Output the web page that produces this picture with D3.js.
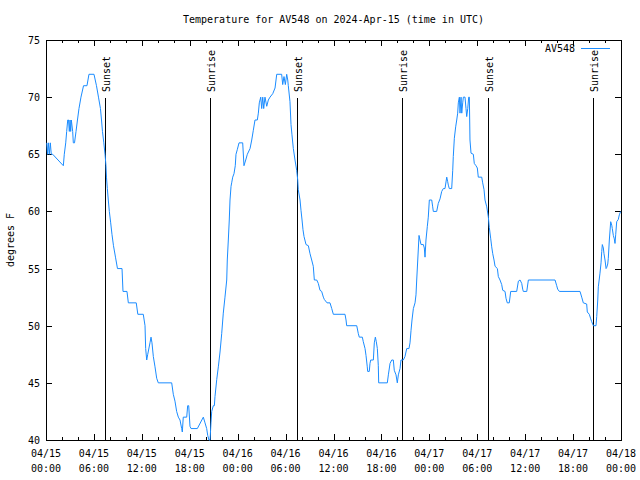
<!DOCTYPE html>
<html><head><meta charset="utf-8">
<script src="https://cdn.jsdelivr.net/npm/d3@7"></script>
<style>
html,body{margin:0;padding:0;background:#fff;}
text{font-family:"DejaVu Sans Mono","Liberation Mono",monospace;font-size:10px;fill:#000;}
</style></head>
<body>
<svg id="chart" width="640" height="480"></svg>
<script>
// ---- data (hours since 2024-04-15 00:00 UTC, temperature °F) ----
const hours = [0.09,0.19,0.29,0.41,0.54,0.66,0.84,2.17,2.29,2.47,2.59,2.72,2.82,2.92,3.01,3.09,3.17,3.34,3.42,3.57,3.76,3.94,4.13,4.38,4.70,5.13,5.38,6.01,6.32,6.57,6.82,6.95,7.07,7.24,7.39,7.51,7.57,7.68,7.80,7.93,8.10,8.26,8.45,8.70,8.95,9.52,9.58,9.64,10.14,10.31,11.30,11.50,12.18,12.40,12.48,12.61,12.74,13.02,13.15,13.27,13.44,13.65,13.86,14.06,15.74,15.94,16.15,16.36,16.57,16.78,16.99,17.07,17.19,17.62,17.74,17.87,18.03,18.16,18.95,19.70,19.91,20.12,20.25,20.41,20.54,20.66,20.75,20.95,21.08,21.16,21.38,21.58,21.79,22.00,22.20,22.41,22.63,22.70,22.83,22.95,23.04,23.17,23.25,23.38,23.54,23.70,23.79,23.95,24.17,24.63,24.79,25.01,25.21,25.55,25.76,25.96,26.17,26.46,26.59,26.71,26.89,27.01,27.14,27.26,27.42,27.64,27.84,28.05,28.39,28.68,28.89,29.51,29.64,29.80,29.97,30.14,30.27,30.34,30.55,30.68,30.80,30.97,31.18,31.39,31.52,31.59,31.81,31.93,32.06,32.18,32.31,32.56,32.85,33.06,33.27,33.47,33.60,33.90,34.10,34.31,34.52,34.73,34.85,35.19,35.56,35.78,35.98,37.44,37.57,37.65,38.91,39.11,39.23,39.61,39.73,39.95,40.07,40.23,40.28,40.48,40.57,40.66,40.99,41.11,41.24,41.36,41.49,41.61,41.66,42.74,42.87,43.08,43.29,43.49,43.61,43.83,43.99,44.12,44.33,44.45,44.74,44.95,45.17,45.45,45.58,45.71,45.83,46.00,46.21,46.33,46.42,46.55,46.71,46.83,46.96,47.25,47.37,47.46,47.58,47.75,47.87,48.00,48.30,48.42,48.50,48.92,49.12,49.34,49.55,49.75,49.96,50.18,50.30,50.38,50.50,50.80,50.93,51.00,51.13,51.30,51.43,51.55,51.63,51.76,51.84,51.97,52.06,52.18,52.26,52.47,52.59,52.68,52.81,52.93,53.01,53.09,53.22,53.51,53.63,53.84,54.01,54.13,54.56,54.68,54.85,54.97,55.19,55.39,55.51,55.69,55.81,55.94,56.10,56.23,56.52,56.64,56.85,57.06,57.19,57.48,57.60,57.76,58.01,58.19,58.94,59.15,59.36,59.57,59.69,59.77,60.20,60.40,63.74,63.95,64.07,64.28,66.87,67.08,67.28,67.70,67.78,68.03,68.21,68.33,68.54,68.87,68.96,69.09,69.16,69.37,69.50,69.59,69.66,69.79,69.87,70.00,70.13,70.21,70.34,70.41,70.54,70.71,70.84,70.91,71.04,71.16,71.25,71.34,71.46,71.66,71.79,71.96];
const tempsF = [66,65,66,65,66,65,65,64,65,66,67,68,68,67,68,67,68,67,66,66,67,68,69,70,71,71,72,72,71,70,69,68,67,66,65,64,63,62,61,60,59,58,57,56,55,55,54,53,53,52,52,51,51,50,48,47,47.5,48.5,49,48.5,47.3,46.4,45.4,45,45,44,43.4,42.5,42,41.75,41,40.7,42,42,43,43,41.2,41,41,42,41.5,41,40.4,40,40,41.5,42.5,43,43,43.8,45.3,46.4,47.7,49.3,51.1,52.5,54,55.75,57.5,59.25,61,62.2,62.5,63,63.3,64,65,65.4,66,66,64,64.5,65,65.5,66.25,67.1,68,68,68.6,69.5,70,69,70,69,70,69.2,69.75,70,70.3,70.8,72,72,71.1,71.8,71.1,72,71.5,71,69.6,67.6,66.7,65.5,64.5,63.6,62.75,61.9,61,60.1,59.25,58.4,57.8,57.1,57,56.3,55.75,55.2,54,54,53.7,53.1,53,52.5,52.3,52,52,51.5,51,51,50.5,50,50,49.3,49,49,48.6,48,47.4,46.4,46,46,46.7,47,47,48.5,49,48.6,48,46.5,45,45,45.7,46.7,47,47,46.1,45.7,45,45.7,46.25,47,47,47.3,48,48,48.5,49.6,50.5,51.5,52,52.7,54,55.75,57.9,57.5,57.1,57.1,56.8,56,57.5,58.7,59.5,61,61,60.4,60,60,60.7,61.1,61.75,62,62,63,62.6,62.3,62,62,63.6,64.8,66.4,67.4,68,68.6,69.5,70,68.6,70,68.6,69.5,70,70,69,68.3,69,70,70,66.25,65.1,65,64.2,64,63.8,63,63,62.5,61.9,61,60.4,59.5,58.6,57.6,56.9,56.3,55.75,55.2,55,54.3,54,53.6,53.1,53,52.4,52,52,53,53,53.9,54,53.7,53.2,53,53,54,54,53.5,53.2,53,53,52.5,52,51.9,51.2,51,50.6,50.35,50,50,50.8,52.25,53.4,54.6,55.5,56.5,57.1,56.8,56.3,55.75,55,55.1,55.4,55.9,57.5,59.1,58.8,58.5,57.9,57.6,57.2,58,59.1,59.3,59.7,60];
const eventHours = [7.5, 20.55, 31.55, 44.6, 55.45, 68.5];
const eventLabels = ["Sunset","Sunrise","Sunset","Sunrise","Sunset","Sunrise"];
const xTickHours = [0,6,12,18,24,30,36,42,48,54,60,66,72];
const xTickDates = ["04/15","04/15","04/15","04/15","04/16","04/16","04/16","04/16","04/17","04/17","04/17","04/17","04/18"];
const xTickTimes = ["00:00","06:00","12:00","18:00","00:00","06:00","12:00","18:00","00:00","06:00","12:00","18:00","00:00"];
const yTicks = [40,45,50,55,60,65,70,75];
const seriesName = "AV548";
const titleText = "Temperature for AV548 on 2024-Apr-15 (time in UTC)";
const yLabel = "degrees F";

// ---- layout ----
const L = 46, R = 621, T = 40, B = 440;
const lineColor = "#1a8cff";
const svg = d3.select("#chart");
const x = d3.scaleLinear().domain([0,72]).range([L,R]);
const y = d3.scaleLinear().domain([40,75]).range([B,T]);

const minorTicks = d3.range(0,73,2).filter(h => h % 6 !== 0);

function styleAxis(g){
  g.select(".domain").remove();
  g.selectAll("line").attr("stroke","#000").attr("shape-rendering","crispEdges");
}
svg.append("g").attr("transform",`translate(0,${B})`)
  .call(d3.axisBottom(x).tickValues(xTickHours).tickSize(-6).tickFormat(""))
  .call(styleAxis);
svg.append("g").attr("transform",`translate(0,${B})`)
  .call(d3.axisBottom(x).tickValues(minorTicks).tickSize(-3).tickFormat(""))
  .call(styleAxis);
svg.append("g").attr("transform",`translate(0,${T})`)
  .call(d3.axisTop(x).tickValues(xTickHours).tickSize(-6).tickFormat(""))
  .call(styleAxis);
svg.append("g").attr("transform",`translate(0,${T})`)
  .call(d3.axisTop(x).tickValues(minorTicks).tickSize(-3).tickFormat(""))
  .call(styleAxis);
svg.append("g").attr("transform",`translate(${L},0)`)
  .call(d3.axisLeft(y).tickValues(yTicks).tickSize(-6).tickFormat(""))
  .call(styleAxis);
svg.append("g").attr("transform",`translate(${R},0)`)
  .call(d3.axisRight(y).tickValues(yTicks).tickSize(-6).tickFormat(""))
  .call(styleAxis);

const xl = svg.append("g");
xTickHours.forEach((h,i)=>{
  const t = xl.append("text").attr("x",x(h)).attr("text-anchor","middle");
  t.append("tspan").attr("x",x(h)).attr("y",457).text(xTickDates[i]);
  t.append("tspan").attr("x",x(h)).attr("y",472).text(xTickTimes[i]);
});
svg.append("g").selectAll("text").data(yTicks).join("text")
  .attr("x",L-6).attr("y",d=>y(d)+4).attr("text-anchor","end").text(d=>d);

svg.append("rect").attr("x",L).attr("y",T).attr("width",R-L).attr("height",B-T)
  .attr("fill","none").attr("stroke","#000").attr("shape-rendering","crispEdges");

eventHours.forEach((h,i)=>{
  svg.append("line").attr("x1",x(h)).attr("x2",x(h)).attr("y1",98).attr("y2",B)
    .attr("stroke","#000").attr("shape-rendering","crispEdges");
  svg.append("text").attr("transform",`translate(${x(h)+1},92) rotate(-90)`)
    .attr("text-anchor","start").attr("dominant-baseline","central").text(eventLabels[i]);
});

const pts = hours.map((h,i)=>[h,tempsF[i]]);
svg.append("path").datum(pts)
  .attr("fill","none").attr("stroke",lineColor).attr("stroke-width",1)
  .attr("d", d3.line().x(d=>x(d[0])).y(d=>y(d[1])));

svg.append("text").attr("x",(L+R)/2).attr("y",23).attr("text-anchor","middle").text(titleText);
svg.append("text").attr("transform",`translate(10,${(T+B)/2}) rotate(-90)`)
  .attr("text-anchor","middle").attr("dominant-baseline","central").text(yLabel);
svg.append("text").attr("x",575).attr("y",52).attr("text-anchor","end").text(seriesName);
svg.append("line").attr("x1",581).attr("x2",610).attr("y1",48.5).attr("y2",48.5)
  .attr("stroke",lineColor).attr("stroke-width",1);
</script>
</body></html>
